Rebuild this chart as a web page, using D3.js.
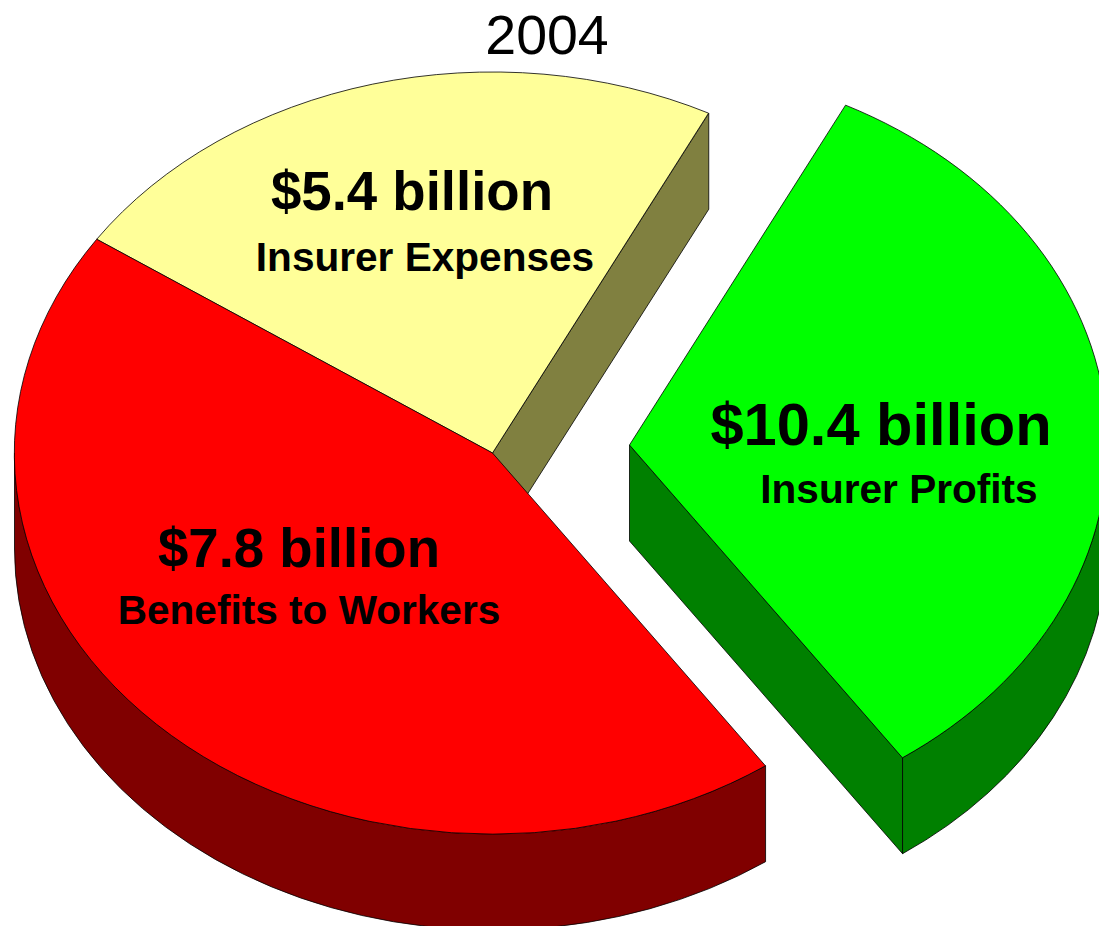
<!DOCTYPE html>
<html>
<head>
<meta charset="utf-8">
<script src="https://cdn.jsdelivr.net/npm/d3@7"></script>
<style>
html, body { margin: 0; padding: 0; background: #fff; overflow: hidden; }
text { font-family: "Liberation Sans", Arial, sans-serif; fill: #000; }
</style>
</head>
<body>
<div id="chart"></div>
<script>
// data
var title = '2004';
var categories = ['Insurer Profits', 'Benefits to Workers', 'Insurer Expenses'];
var amounts = ['$10.4 billion', '$7.8 billion', '$5.4 billion'];
// slice sizes in percent, read from the drawn angles (not from the labels)
var shares = [32.85, 44.15, 23.0];
var topColors = ['#00ff00', '#ff0000', '#ffff99'];
var sideColors = ['#008000', '#800000', '#808040'];

// global variables
var width = 1099,
    height = 926;
var rx = 478,
    ry = 381,
    depth = 96;
var cx = 492.5,
    cy = 453;
var startAngle = 26.9 * Math.PI / 180;
var burstX = 137,
    burstY = -8;

var svg = d3.select('#chart').append('svg')
    .attr('width', width)
    .attr('height', height);

var pie = d3.pie()
    .sort(null)
    .startAngle(startAngle)
    .endAngle(startAngle + 2 * Math.PI)
    .value(function(d){ return d; });

var slices = pie(shares);

// unit circle arc, squashed into an ellipse by the group transform
var arc = d3.arc().innerRadius(0).outerRadius(1);

function px(a){ return rx * Math.sin(a); }
function py(a){ return -ry * Math.cos(a); }

// outer wall between two angles, only the part facing the viewer
function wall(a0, a1){
    var from = Math.max(a0, Math.PI / 2);
    var to = Math.min(a1, 3 * Math.PI / 2);
    if(to <= from) return null;
    return 'M' + px(from) + ',' + py(from)
        + 'A' + rx + ',' + ry + ' 0 0 1 ' + px(to) + ',' + py(to)
        + 'L' + px(to) + ',' + (py(to) + depth)
        + 'A' + rx + ',' + ry + ' 0 0 0 ' + px(from) + ',' + (py(from) + depth)
        + 'Z';
}

// flat face running from the centre out to the rim at angle a
function cutFace(a){
    return 'M0,0L' + px(a) + ',' + py(a)
        + 'L' + px(a) + ',' + (py(a) + depth)
        + 'L0,' + depth + 'Z';
}

function offset(i){
    return i == 0 ? [cx + burstX, cy + burstY] : [cx, cy];
}

// yellow first, red lies over its cut face
[2, 1, 0].forEach(function(i){
    var s = slices[i];
    var o = offset(i);
    var g = svg.append('g')
        .attr('transform', 'translate(' + o[0] + ',' + o[1] + ')');

    // the faces seen from this view
    var faces = [];
    if(i == 0) faces.push(cutFace(s.endAngle));
    if(i == 2) faces.push(cutFace(s.endAngle % (2 * Math.PI)));
    var w = wall(s.startAngle, s.endAngle);
    if(w) faces.push(w);

    g.selectAll('.side')
        .data(faces)
        .enter().append('path')
        .attr('class', 'side')
        .attr('d', function(d){ return d; })
        .style('fill', sideColors[i])
        .style('stroke', '#000')
        .style('stroke-width', 0.8)
        .style('stroke-linejoin', 'round');

    g.append('path')
        .attr('transform', 'scale(' + rx + ',' + ry + ')')
        .attr('d', arc({startAngle: s.startAngle, endAngle: s.endAngle}))
        .attr('vector-effect', 'non-scaling-stroke')
        .style('fill', topColors[i])
        .style('stroke', '#000')
        .style('stroke-width', 0.8)
        .style('stroke-linejoin', 'round');
});

// title
svg.append('text')
    .attr('x', 547)
    .attr('y', 53.5)
    .attr('text-anchor', 'middle')
    .style('font-size', '55.5px')
    .text(title);

// labels
var amountPos = [[881, 445], [299, 567], [412, 210]];
var amountSize = [59.6, 54.6, 54.6];
var namePos = [[899, 503], [309, 624], [425, 271]];

categories.forEach(function(c, i){
    svg.append('text')
        .attr('x', amountPos[i][0])
        .attr('y', amountPos[i][1])
        .attr('text-anchor', 'middle')
        .style('font-size', amountSize[i] + 'px')
        .style('font-weight', 'bold')
        .text(amounts[i]);
    svg.append('text')
        .attr('x', namePos[i][0])
        .attr('y', namePos[i][1])
        .attr('text-anchor', 'middle')
        .style('font-size', '40.6px')
        .style('font-weight', 'bold')
        .text(c);
});
</script>
</body>
</html>
